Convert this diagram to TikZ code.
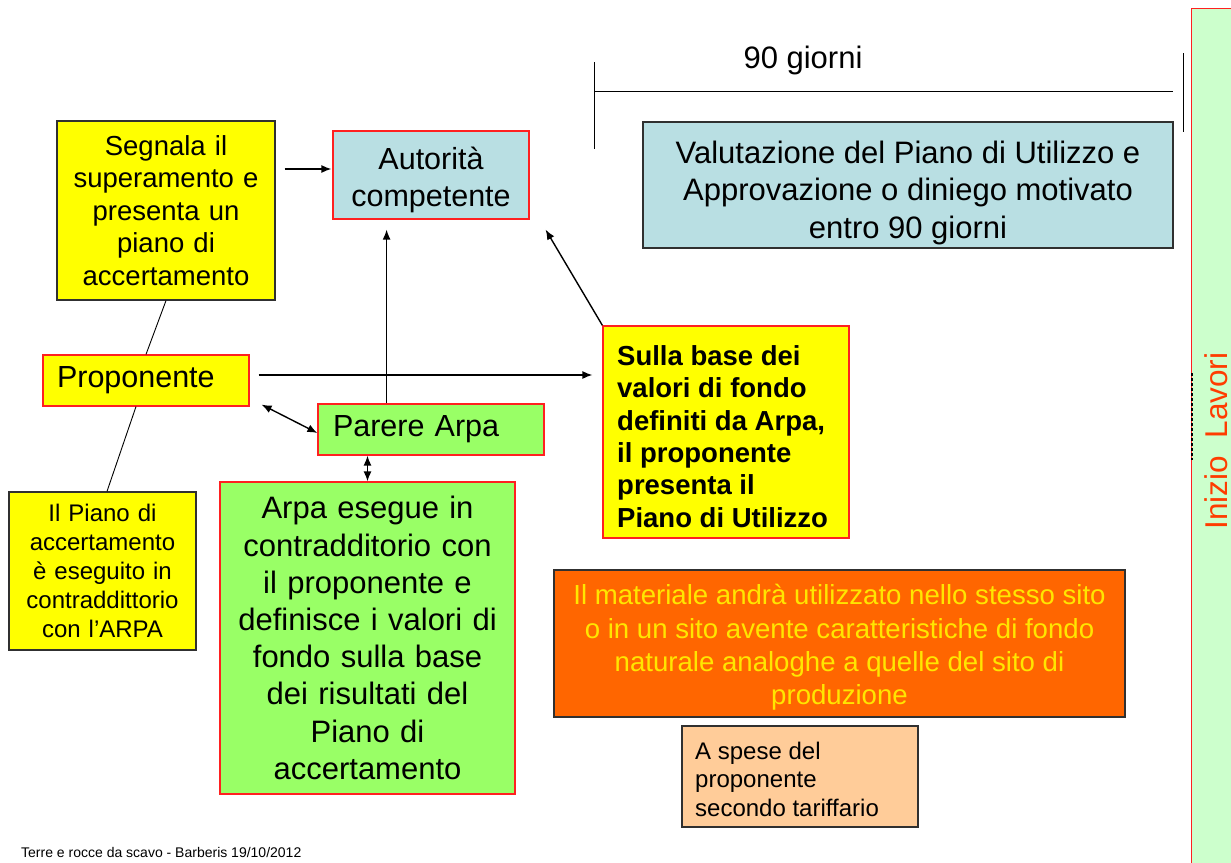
\documentclass[tikz,border=0pt]{standalone}
\usepackage{fontspec}
\setmainfont{Liberation Sans}
\usetikzlibrary{arrows.meta}
\definecolor{yel}{HTML}{FFFF00}
\definecolor{lblue}{HTML}{B9DFE3}
\definecolor{lgreen}{HTML}{99FF66}
\definecolor{stripg}{HTML}{CCFFCC}
\definecolor{orng}{HTML}{FF6600}
\definecolor{otext}{HTML}{FFE600}
\definecolor{peach}{HTML}{FFCC99}
\definecolor{redb}{HTML}{FF2020}
\definecolor{stripred}{HTML}{FF3C00}
\definecolor{darkb}{HTML}{303030}
\begin{document}
\begin{tikzpicture}[x=1pt,y=-1pt,
  box/.style={rectangle, inner sep=0pt, line width=1.2pt, align=center},
  txt/.style={inner sep=0pt, align=center},
  arr/.style={line width=1.4pt, -{Latex[length=10pt,width=8pt]}},
  darr/.style={line width=1.4pt, {Latex[length=10pt,width=8pt]}-{Latex[length=10pt,width=8pt]}},
  thinline/.style={line width=0.9pt}]
\useasboundingbox (0,0) rectangle (1231,862);

% right strip
\node[rectangle, draw=redb, fill=stripg, line width=1pt, inner sep=0pt,
  minimum width=44, minimum height=860, anchor=north west] (strip) at (1191,8) {};
\node[rotate=90, inner sep=0pt, text=stripred, font=\fontsize{31.5}{36}\selectfont] (inizio) at (1216.5,441) {Inizio\ \ Lavori};
\coordinate (dt) at (1192,373);
\coordinate (db) at (1192,460);
\draw[line width=1.3pt, dash pattern=on 3pt off 2pt] (dt) -- (db);

% 90 giorni bracket
\node[font=\fontsize{31}{37}\selectfont] (giorni) at (803,60) {90 giorni};
\coordinate (bl1) at (594,62);
\coordinate (bl2) at (594,149);
\coordinate (bh1) at (594,91);
\coordinate (bh2) at (1173,91);
\coordinate (br1) at (1183,53);
\coordinate (br2) at (1183,132);
\draw[thinline] (bl1) -- (bl2);
\draw[thinline] (bh1) -- (bh2);
\draw[thinline] (br1) -- (br2);

% boxes
\node[box, draw=darkb, fill=yel, minimum width=218, minimum height=179,
  text width=208, font=\fontsize{27.5}{32.5}\selectfont] (seg) at (166,210.5)
  {Segnala il\\superamento e\\presenta un\\piano di\\accertamento};

\node[box, draw=redb, fill=lblue, minimum width=196, minimum height=88] (aut) at (431,175) {};
\node[txt, font=\fontsize{30.5}{37}\selectfont] (auttext) at (431,179.5) {Autorità\\competente};

\node[box, draw=redb, fill=yel, minimum width=206, minimum height=51,
  inner xsep=14pt, text width=178, align=left, font=\fontsize{30.5}{37}\selectfont] (pro) at (146,380.5)
  {Proponente};

\node[box, draw=redb, fill=lgreen, minimum width=226, minimum height=51,
  inner xsep=15pt, text width=196, align=left, font=\fontsize{30.5}{37}\selectfont] (par) at (431,429.5)
  {Parere Arpa};

\node[box, draw=redb, fill=lgreen, minimum width=295, minimum height=312,
  text width=285, font=\fontsize{31}{37.2}\selectfont] (arpa) at (367.5,638)
  {Arpa esegue in\\contradditorio con\\il proponente e\\definisce i valori di\\fondo sulla base\\dei risultati del\\Piano di\\accertamento};

\node[box, draw=darkb, fill=yel, minimum width=187, minimum height=158,
  text width=180, font=\fontsize{24}{29}\selectfont] (piano) at (102.5,571)
  {Il Piano di\\accertamento\\è eseguito in\\contraddittorio\\con l’ARPA};

\node[box, draw=redb, fill=yel, minimum width=246, minimum height=212] (sul) at (726,432) {};
\node[txt, anchor=west, align=left, font=\bfseries\fontsize{27.5}{32.4}\selectfont] (sultext) at (617,436.5)
  {Sulla base dei\\valori di fondo\\definiti da Arpa,\\il proponente\\presenta il\\Piano di Utilizzo};

\node[box, draw=darkb, fill=lblue, minimum width=530, minimum height=126] (val) at (908,185) {};
\node[txt, font=\fontsize{31}{37.5}\selectfont] (valtext) at (908,192.5)
  {Valutazione del Piano di Utilizzo e\\Approvazione o diniego motivato\\entro 90 giorni};

\node[box, draw=darkb, fill=orng, minimum width=571, minimum height=147] (mat) at (839.5,643.5) {};
\node[txt, text=otext, font=\fontsize{27.6}{33.3}\selectfont] (mattext) at (839.5,647.5)
  {Il materiale andrà utilizzato nello stesso sito\\o in un sito avente caratteristiche di fondo\\naturale analoghe a quelle del sito di\\produzione};

\node[box, draw=darkb, fill=peach, minimum width=236, minimum height=101] (spese) at (800,776.5) {};
\node[txt, anchor=west, align=left, font=\fontsize{24}{28.5}\selectfont] (spesetext) at (695,779)
  {A spese del\\proponente\\secondo tariffario};

\node[anchor=west, inner sep=0pt, font=\fontsize{14}{16}\selectfont] (foot) at (21,852)
  {Terre e rocce da scavo - Barberis 19/10/2012};

% connectors
\draw[arr] ([shift={(9,-41.5)}]seg.east) -- ([shift={(-1,-6)}]aut.west);
\draw[arr] ([xshift=-44.4pt]par.north) -- ([shift={(-44.4,10)}]aut.south);
\draw[arr] (sul.north west) -- ([shift={(16,10)}]aut.south east);
\draw[arr] ([shift={(9,-5.5)}]pro.east) -- ([shift={(-10,-57)}]sul.west);
\draw[darr] ([shift={(12,-2)}]pro.south east) -- ([shift={(0,3.5)}]par.west);
\draw[darr] (arpa.north |- par.south) -- (arpa.north);
\draw[thinline] (seg.south) -- (pro.north);
\draw[thinline] ([xshift=-10pt]pro.south) -- ([xshift=4.5pt]piano.north);
\end{tikzpicture}
\end{document}
